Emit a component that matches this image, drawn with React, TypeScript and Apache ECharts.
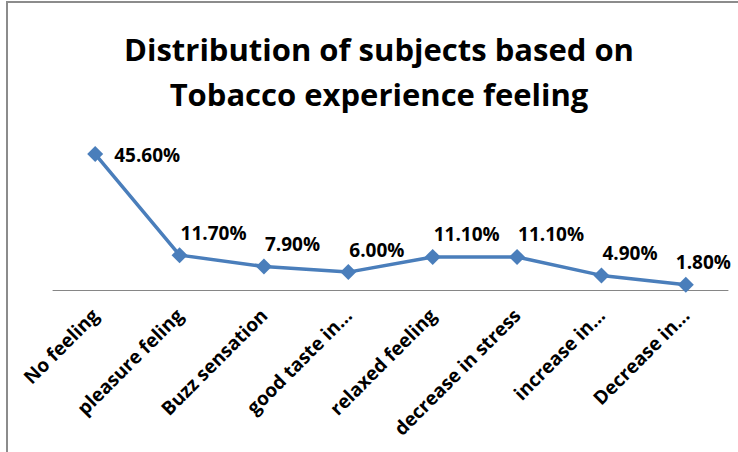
import React, { useEffect, useRef } from "react";
import * as echarts from "echarts";

const categories = [
  "No feeling",
  "pleasure feling",
  "Buzz sensation",
  "good taste in...",
  "relaxed feeling",
  "decrease in stress",
  "increase in...",
  "Decrease in...",
];
const values = [45.6, 11.7, 7.9, 6.0, 11.1, 11.1, 4.9, 1.8];
const titleLines = ["Distribution of subjects based on", "Tobacco experience feeling"];

export default function App() {
  const ref = useRef<HTMLDivElement>(null);
  useEffect(() => {
    if (!ref.current) return;
    const chart = echarts.init(ref.current, undefined, { renderer: "svg" });
    const font = "'Open Sans', Lato, sans-serif";
    const last = values.length - 1;
    chart.setOption({
      animation: false,
      backgroundColor: "#ffffff",
      graphic: [
        {
          type: "rect",
          shape: { x: 7, y: 2, width: 900, height: 700 },
          style: { fill: "none", stroke: "#8c8c8c", lineWidth: 2 },
          silent: true,
        },
        {
          type: "text",
          x: 379,
          y: 26,
          style: {
            text: titleLines.join("\n"),
            textAlign: "center",
            fontFamily: font,
            fontWeight: "bold",
            fontSize: 31,
            lineHeight: 45,
            fill: "#000000",
          },
        },
      ],
      grid: { left: 53, right: 10, top: 141, bottom: 162 },
      xAxis: {
        type: "category",
        data: categories,
        boundaryGap: true,
        axisLine: { show: true, lineStyle: { color: "#868686", width: 1 } },
        axisTick: { show: false },
        axisLabel: {
          rotate: 45,
          interval: 0,
          margin: 22,
          fontFamily: font,
          fontWeight: "bold",
          fontSize: 19,
          color: "#000000",
        },
      },
      yAxis: {
        type: "value",
        min: 0,
        max: 50,
        show: false,
        splitLine: { show: false },
      },
      series: [
        {
          type: "line",
          data: values.map((v, i) =>
            i === 0
              ? { value: v, label: { position: "right", offset: [6, 1], align: "left" } }
              : i === last
              ? { value: v, label: { offset: [-10, 0] } }
              : v
          ),
          symbol: "diamond",
          symbolSize: 16,
          lineStyle: { color: "#4a7ebb", width: 3.5 },
          itemStyle: { color: "#4a7ebb" },
          label: {
            show: true,
            position: "top",
            align: "left",
            offset: [1, 0],
            formatter: (p: any) => Number(p.value).toFixed(2) + "%",
            fontFamily: font,
            fontWeight: "bold",
            fontSize: 19,
            color: "#000000",
          },
        },
      ],
    });
    return () => chart.dispose();
  }, []);
  return (
    <div
      ref={ref}
      style={{ position: "absolute", left: 0, top: 0, width: 738, height: 452 }}
    />
  );
}
